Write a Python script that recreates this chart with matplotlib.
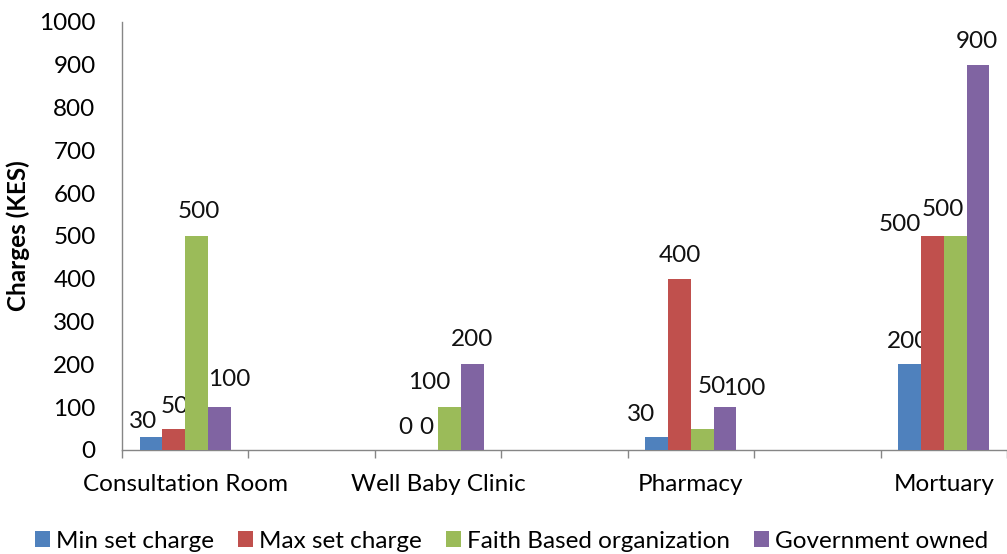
import matplotlib.pyplot as plt
import numpy as np

plt.rcParams['font.family'] = ['Lato', 'DejaVu Sans']

# data
categories = ['Consultation Room', 'Well Baby Clinic', 'Pharmacy', 'Mortuary']
series_names = ['Min set charge', 'Max set charge', 'Faith Based organization', 'Government owned']
min_charge = [30, 0, 30, 200]
max_charge = [50, 0, 400, 500]
faith_based = [500, 100, 50, 500]
government = [100, 200, 100, 900]
colors = ['#4F81BD', '#C0504D', '#9BBB59', '#8064A2']

# nudges (pixels) that keep crowded value labels apart, like the original, per series
nudge_x = [[-8, 1, -16, -2],
           [1, 0, 0, -33],
           [2, -20, 9, -12],
           [10, 0, 19, -1]]
nudge_y = [[-8, -1, -1, -1],
           [-2, -1, 0, -12],
           [1, 1, 18, 3],
           [4, 1, -5, 0]]

W, H = 1007, 554
fig = plt.figure(figsize=(W / 100, H / 100), dpi=100)
ax = fig.add_axes([122 / W, (H - 450) / H, (W - 122) / W, (450 - 22) / H])

# every category takes two slots of the axis, the second one empty
x = np.arange(len(categories)) * 2
bw = 0.18
px = 72 / 100  # points per pixel
all_series = [min_charge, max_charge, faith_based, government]
for i, (vals, name, col) in enumerate(zip(all_series, series_names, colors)):
    xs = x + (i - 1.5) * bw
    ax.bar(xs, vals, width=bw, color=col, label=name, zorder=3)
    for j, (xi, v) in enumerate(zip(xs, vals)):
        ax.annotate(str(v), (xi, v),
                    xytext=(nudge_x[i][j] * px, 9.5 + nudge_y[i][j] * px),
                    textcoords='offset points',
                    ha='center', va='bottom', fontsize=17.5, color='#111111')

ax.set_ylim(0, 1000)
ax.set_yticks(np.arange(0, 1001, 100))
ax.set_xlim(-0.5, -0.5 + (W - 122) / 127.6)
ax.set_xticks(np.arange(-0.5, 7, 1))
ax.set_xticklabels([])
ax.set_xticks(x, minor=True)
ax.set_xticklabels(categories, minor=True)
ax.tick_params(axis='x', which='major', length=6, color='#868686', width=1)
ax.tick_params(axis='x', which='minor', length=0, pad=17, labelsize=17.5)
ax.tick_params(axis='y', length=0, pad=19, labelsize=17.5)

for s in ['top', 'right']:
    ax.spines[s].set_visible(False)
for s in ['left', 'bottom']:
    ax.spines[s].set_color('#868686')
    ax.spines[s].set_linewidth(1)

fig.text(18 / W, 1 - 236 / H, 'Charges (KES)', rotation=90, ha='center', va='center',
         fontsize=17.5, fontweight='bold')

fig.legend(loc='center', bbox_to_anchor=(0.508, 1 - 541 / H), ncol=4, frameon=False,
           fontsize=17.5, handlelength=0.6, handleheight=0.6, handletextpad=0.25,
           columnspacing=1.0)

fig.savefig('out.png', dpi=100)
